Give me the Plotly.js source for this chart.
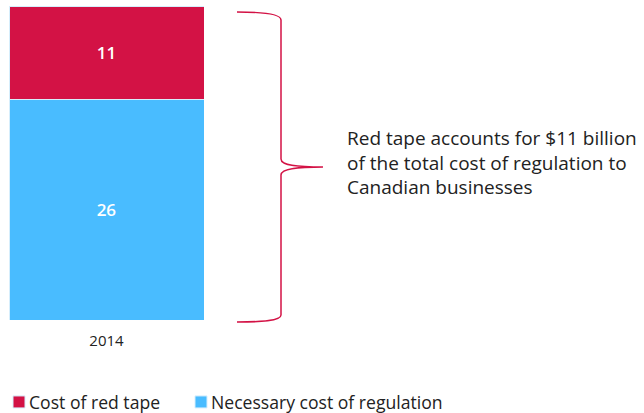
<!DOCTYPE html>
<html>
<head>
<meta charset="utf-8">
<script src="https://cdn.plot.ly/plotly-3.0.1.min.js"></script>
<style>html,body{margin:0;padding:0;background:#fff;}#chart{width:644px;height:413px;}</style>
</head>
<body>
<div id="chart"></div>
<script>
var categories = ["2014"];
var necessaryCost = [26];
var redTapeCost = [11];
var seriesNames = ["Cost of red tape", "Necessary cost of regulation"];
var noteText = "Red tape accounts for $11 billion<br>of the total cost of regulation to<br>Canadian businesses";

var W = 644, H = 413, MT = 6, MB = 93;
var PH = H - MT - MB;
function px(x) { return x / W; }
function py(y) { return (H - MB - y) / PH; }
function pt(x, y) { return px(x).toFixed(5) + "," + py(y).toFixed(5); }

var FONT = "'Open Sans', 'Noto Sans', sans-serif";

var bracePath =
  "M" + pt(237, 12) +
  " C" + pt(260, 12) + " " + pt(281, 14) + " " + pt(281, 20) +
  " L" + pt(281, 159) +
  " C" + pt(281, 166) + " " + pt(300, 167) + " " + pt(323, 167) +
  " C" + pt(300, 167) + " " + pt(281, 168) + " " + pt(281, 175) +
  " L" + pt(281, 315) +
  " C" + pt(281, 321) + " " + pt(260, 322) + " " + pt(237, 322);

var traces = [
  {
    type: "bar", name: seriesNames[1], x: categories, y: necessaryCost,
    marker: {color: "#49BCFF", line: {color: "#d6eefc", width: 1}},
    text: necessaryCost.map(String), textposition: "inside", insidetextanchor: "middle",
    textfont: {color: "#ffffff", size: 17, family: FONT, weight: 600},
    width: 1, legendrank: 2
  },
  {
    type: "bar", name: seriesNames[0], x: categories, y: redTapeCost,
    marker: {color: "#D31245", line: {color: "#d6eefc", width: 1}},
    text: redTapeCost.map(String), textposition: "inside", insidetextanchor: "middle",
    textfont: {color: "#ffffff", size: 17, family: FONT, weight: 600},
    width: 1, legendrank: 1
  }
];

var layout = {
  width: W, height: H,
  margin: {l: 0, r: 0, t: MT, b: MB, pad: 0, autoexpand: false},
  barmode: "stack",
  paper_bgcolor: "#ffffff", plot_bgcolor: "#ffffff",
  font: {family: FONT, color: "#222222"},
  xaxis: {
    domain: [px(9), px(204)], type: "category", range: [-0.5, 0.5],
    showgrid: false, zeroline: false, showline: false, ticks: "",
    ticklabelstandoff: 10,
    tickfont: {size: 15, color: "#222222", family: FONT}
  },
  yaxis: {range: [0, 37], visible: false, fixedrange: true},
  showlegend: true,
  legend: {
    orientation: "h", x: px(-1), xanchor: "left", y: py(402), yanchor: "middle",
    font: {size: 17.6, color: "#222222", family: FONT},
    traceorder: "normal", itemwidth: 30,
    entrywidth: 137, entrywidthmode: "pixels"
  },
  shapes: [{
    type: "path", xref: "paper", yref: "paper", path: bracePath,
    line: {color: "#D31245", width: 1.5}
  }],
  annotations: [{
    xref: "paper", yref: "paper", x: px(345), y: py(162), xanchor: "left", yanchor: "middle",
    text: noteText, showarrow: false, align: "left",
    font: {size: 19, color: "#222222", family: FONT}
  }]
};

Plotly.newPlot("chart", traces, layout, {displayModeBar: false, staticPlot: true}).then(function (gd) {
  gd.querySelectorAll(".legendtext").forEach(function (t) { t.setAttribute("x", "30"); });
  gd.querySelectorAll(".legend .scrollbox").forEach(function (s) { s.removeAttribute("clip-path"); });
  gd.querySelectorAll(".legend").forEach(function (s) { s.style.overflow = "visible"; });
});
</script>
</body>
</html>
